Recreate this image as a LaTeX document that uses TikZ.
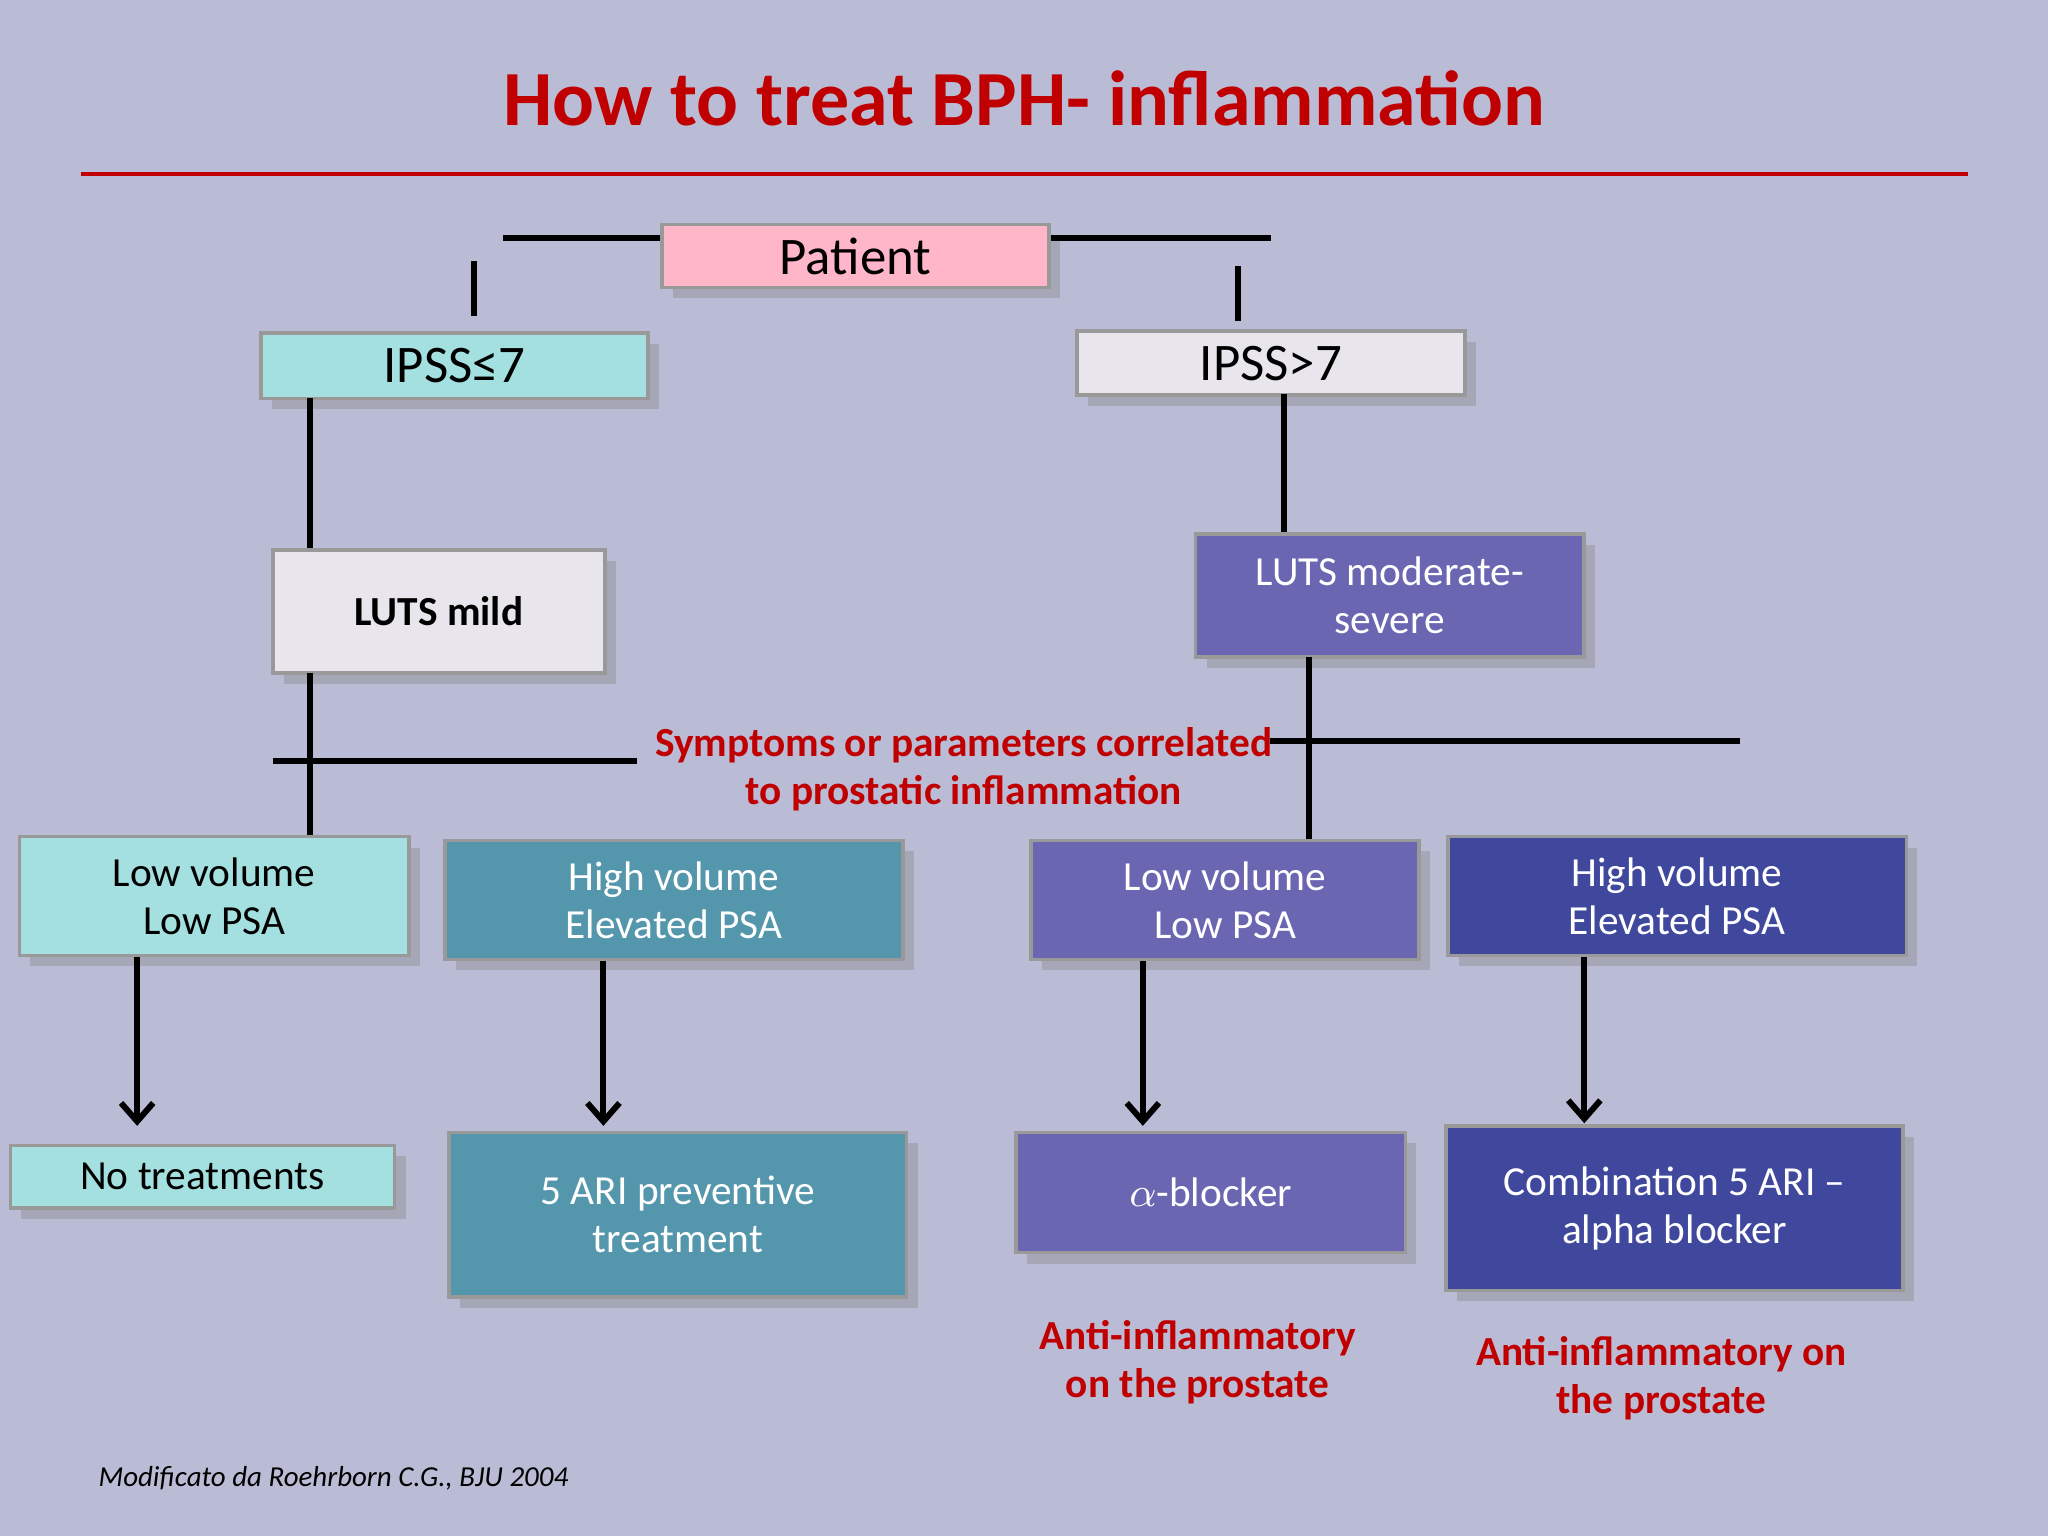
\documentclass[tikz,border=0pt]{standalone}
\usepackage{fontspec}
\setmainfont{Carlito}
\usetikzlibrary{arrows.meta, positioning, shadows}
\definecolor{bgpurple}{RGB}{186,188,214}
\definecolor{titlered}{RGB}{192,0,0}
\definecolor{pinkbox}{RGB}{255,182,200}
\definecolor{tealpale}{RGB}{164,224,224}
\definecolor{greybox}{RGB}{232,230,236}
\definecolor{tealdark}{RGB}{84,150,172}
\definecolor{purplebox}{RGB}{106,102,178}
\definecolor{bluebox}{RGB}{64,72,158}
\tikzset{
    block/.style={rectangle, draw=black!40, thick, align=center, inner sep=0pt, drop shadow={opacity=0.35}, font=\fontsize{9}{10.5}\selectfont},
    dark/.style={block, text=white},
    link/.style={line width=1.3pt},
    arrow/.style={line width=1.3pt, -{Straight Barb[length=4pt,width=7pt]}},
    note/.style={text=titlered, font=\bfseries\fontsize{9}{10.5}\selectfont, align=center}
}
\begin{document}
\begin{tikzpicture}[x=0.01cm, y=-0.01cm]
            \useasboundingbox (0,0) rectangle (1568,1176);
            \fill[bgpurple] (0,0) rectangle (1568,1176);

            \node[text=titlered, font=\bfseries\fontsize{17}{20}\selectfont] (title) at (784,75) {How to treat BPH- inflammation};
            \draw[titlered, line width=0.8pt] (62,133) -- (1507,133);

            \node[block, fill=pinkbox, minimum width=2.96cm, minimum height=0.48cm, font=\fontsize{11.5}{14}\selectfont] (patient) at (655,196) {Patient};
            \node[block, fill=tealpale, minimum width=2.96cm, minimum height=0.5cm, font=\fontsize{11.5}{14}\selectfont] (ipsslow) at (348,280) {IPSS≤7};
            \node[block, fill=greybox, minimum width=2.97cm, minimum height=0.49cm, font=\fontsize{11.5}{14}\selectfont] (ipsshigh) at (973,278) {IPSS>7};
            \node[block, fill=greybox, minimum width=2.54cm, minimum height=0.94cm, font=\bfseries\fontsize{9}{10.5}\selectfont] (lutsmild) at (336,468) {LUTS mild};
            \node[dark, fill=purplebox, minimum width=2.97cm, minimum height=0.94cm] (lutsmod) at (1064,456) {LUTS moderate-\\severe};

            \node[block, fill=tealpale, minimum width=2.98cm, minimum height=0.91cm] (lowleft) at (164,686) {Low volume\\Low PSA};
            \node[dark, fill=tealdark, minimum width=3.5cm, minimum height=0.91cm] (highleft) at (516,689) {High volume\\Elevated PSA};
            \node[dark, fill=purplebox, minimum width=2.97cm, minimum height=0.91cm] (lowright) at (938,689) {Low volume\\Low PSA};
            \node[dark, fill=bluebox, minimum width=3.51cm, minimum height=0.91cm] (highright) at (1284,686) {High volume\\Elevated PSA};

            \node[block, fill=tealpale, minimum width=2.94cm, minimum height=0.48cm] (notreat) at (155,901) {No treatments};
            \node[dark, fill=tealdark, minimum width=3.5cm, minimum height=1.26cm] (ari) at (519,930) {5 ARI preventive\\treatment};
            \node[dark, fill=purplebox, minimum width=2.98cm, minimum height=0.92cm] (alpha) at (927,913) {$\alpha$-blocker};
            \node[dark, fill=bluebox, minimum width=3.5cm, minimum height=1.26cm] (combo) at (1282,925) {Combination 5 ARI –\\alpha blocker};

            \node[note] (symptoms) at (738,589) {Symptoms or parameters correlated\\to prostatic inflammation};
            \node[note] (antileft) at (917,1043) {Anti-inflammatory\\on the prostate};
            \node[note] (antiright) at (1272,1055) {Anti-inflammatory on\\the prostate};
            \node[anchor=west, font=\itshape\fontsize{6.3}{8}\selectfont] (source) at (63,1132) {Modificato da Roehrborn C.G., BJU 2004};

            % bars and stems
            \coordinate (barleft) at (385,182);
            \coordinate (barright) at (973,182);
            \draw[link] (barleft) -- (patient.west |- barleft);
            \draw[link] (patient.east |- barright) -- (barright);
            \draw[link] (363,200) -- (363,242);
            \draw[link] (948,204) -- (948,246);
            \draw[link] (237,305) -- (lutsmild.north -| 237,0);
            \draw[link] (237,515) -- (lowleft.north -| 237,0);
            \draw[link] (209,583) -- (488,583);
            \draw[link] (983,302) -- (lutsmod.north -| 983,0);
            \draw[link] (1002,503) -- (lowright.north -| 1002,0);
            \draw[link] (972,567) -- (1332,567);

            % arrows
            \draw[arrow] (lowleft.south -| 105,0) -- (105,862);
            \draw[arrow] (highleft.south -| 462,0) -- (462,862);
            \draw[arrow] (lowright.south -| 875,0) -- (875,862);
            \draw[arrow] (highright.south -| 1213,0) -- (1213,860);
        \end{tikzpicture}
\end{document}
